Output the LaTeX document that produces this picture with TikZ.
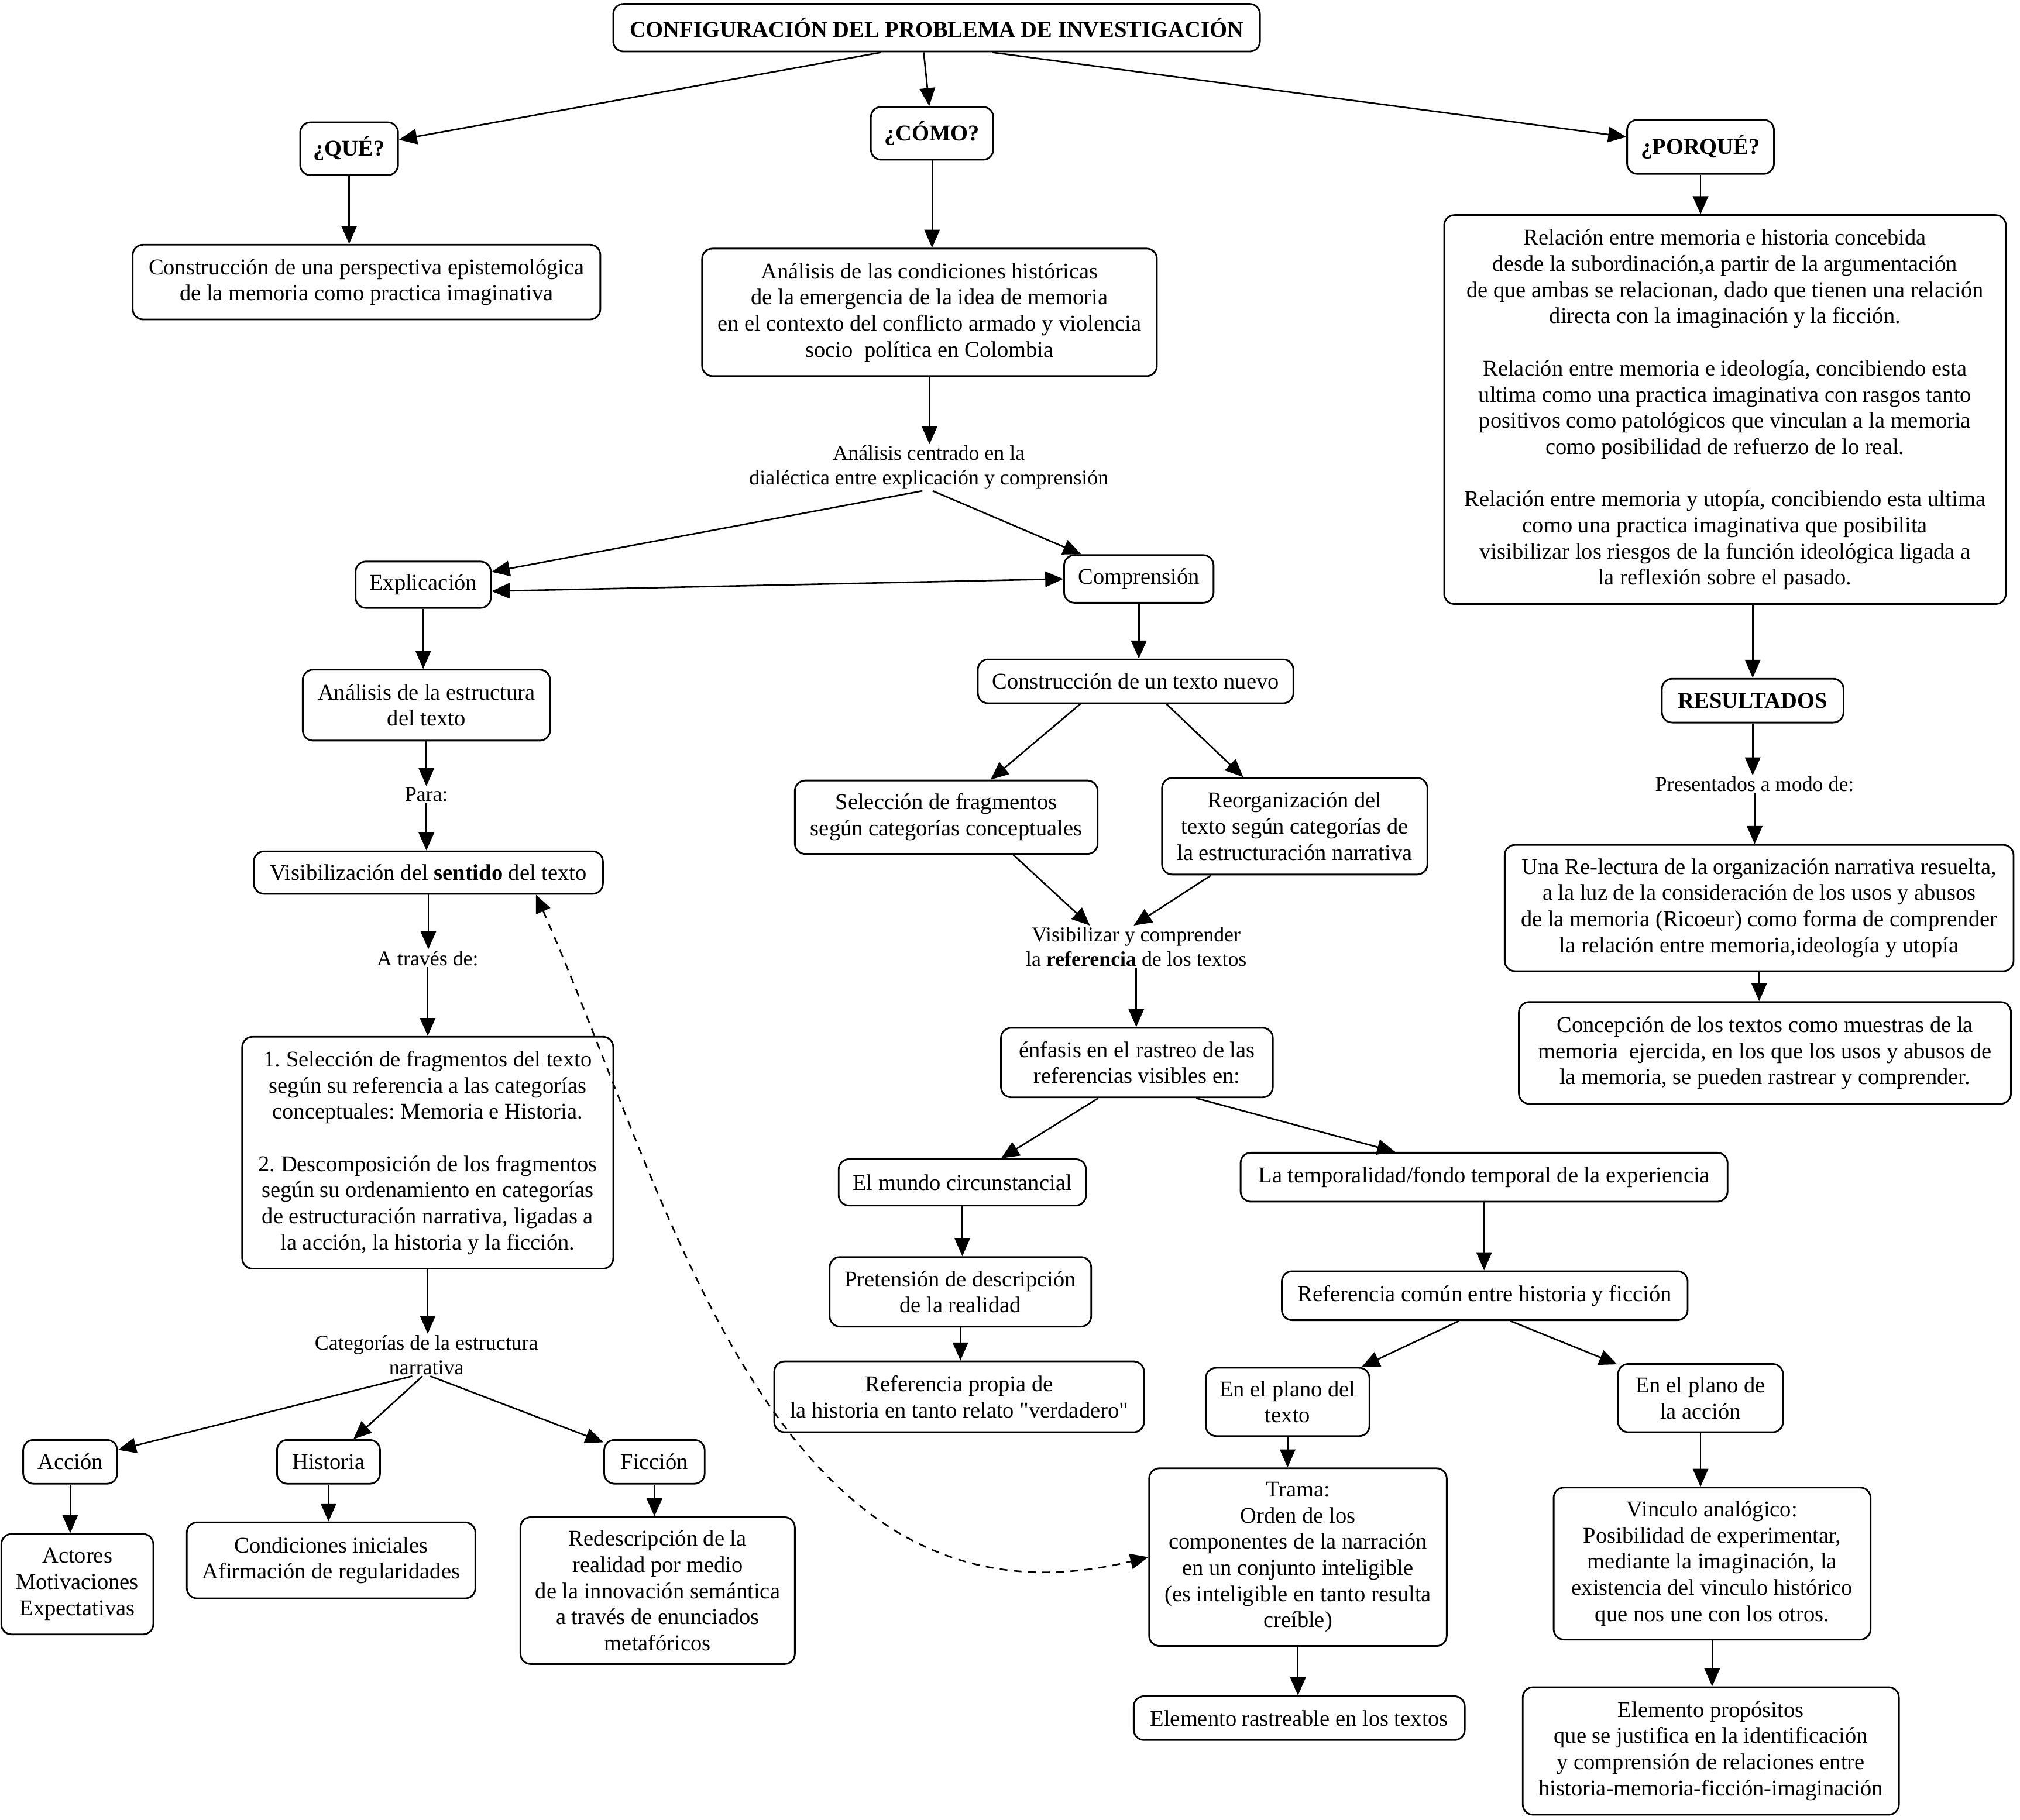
\documentclass[tikz,border=0pt]{standalone}
\usepackage{fontspec}
\setmainfont{Liberation Serif}
\usetikzlibrary{arrows.meta,calc}
\tikzset{
  box/.style={draw, line width=1.3pt, rounded corners=8pt, align=center, inner sep=2pt,
    font=\fontsize{17.5}{20.3}\selectfont},
  sz/.style 2 args={minimum width=#1pt, minimum height=#2pt},
  lbl/.style={align=center, inner sep=1pt, font=\fontsize{16.3}{19}\selectfont},
  arr/.style={-{Triangle[length=14pt,width=12pt]}, line width=1.2pt},
  darr/.style={{Triangle[length=14pt,width=12pt]}-{Triangle[length=14pt,width=12pt]}, line width=1.2pt},
  dasharr/.style={{Triangle[length=14pt,width=12pt]}-{Triangle[length=14pt,width=12pt]}, line width=1.2pt, dash pattern=on 6pt off 5pt},
}
\begin{document}
\frenchspacing
\begin{tikzpicture}[x=1pt, y=-1pt]
\useasboundingbox (0,0) rectangle (1568,1413);

% top level
\node[box, sz={502}{37}] (title) at (727,21.5) {\textbf{CONFIGURACIÓN DEL PROBLEMA DE INVESTIGACIÓN}};
\node[box, sz={76}{41}] (que) at (271,115.5) {\textbf{¿QUÉ?}};
\node[box, sz={95}{41}] (como) at (723.5,103.5) {\textbf{¿CÓMO?}};
\node[box, sz={114}{42}] (porque) at (1320,114) {\textbf{¿PORQUÉ?}};

\node[box, sz={363}{58}] (persp) at (284.5,219) {Construcción de una perspectiva epistemológica\\de la memoria como practica imaginativa};
\node[box, sz={353}{99}] (analisis) at (721.5,242.5) {Análisis de las condiciones históricas\\de la emergencia de la idea de memoria\\en el contexto del conflicto armado y violencia\\socio\ \ política en Colombia};
\node[box, sz={436}{302}] (porbox) at (1339,318) {Relación entre memoria e historia concebida\\desde la subordinación,a partir de la argumentación\\de que ambas se relacionan, dado que tienen una relación\\directa con la imaginación y la ficción.\\[20.3pt]Relación entre memoria e ideología, concibiendo esta\\ultima como una practica imaginativa con rasgos tanto\\positivos como patológicos que vinculan a la memoria\\como posibilidad de refuerzo de lo real.\\[20.3pt]Relación entre memoria y utopía, concibiendo esta ultima\\como una practica imaginativa que posibilita\\visibilizar los riesgos de la función ideológica ligada a\\la reflexión sobre el pasado.};

% left branch
\node[lbl] (centrado) at (721,363) {Análisis centrado en la\\dialéctica entre explicación y comprensión};
\node[box, sz={105}{36}] (expl) at (328.5,454) {Explicación};
\node[box, sz={116}{37}] (compr) at (884,449.5) {Comprensión};
\node[box, sz={192}{55}] (estruct) at (331,547.5) {Análisis de la estructura\\del texto};
\node[lbl] (para) at (331,617) {Para:};
\node[box, sz={271}{33}] (visib) at (332.5,677.5) {Visibilización del \textbf{sentido} del texto};
\node[lbl] (atraves) at (332,744) {A través de:};
\node[box, sz={288}{180}] (frag) at (332,895) {1. Selección de fragmentos del texto\\según su referencia a las categorías\\conceptuales: Memoria e Historia.\\[20.3pt]2. Descomposición de los fragmentos\\según su ordenamiento en categorías\\de estructuración narrativa, ligadas a\\la acción, la historia y la ficción.};
\node[lbl] (categ) at (331,1052) {Categorías de la estructura\\narrativa};
\node[box, sz={73}{34}] (accion) at (54.5,1135) {Acción};
\node[box, sz={80}{34}] (historia) at (255,1135) {Historia};
\node[box, sz={78}{34}] (ficcion) at (508,1135) {Ficción};
\node[box, sz={118}{78}] (actores) at (60,1230) {Actores\\Motivaciones\\Expectativas};
\node[box, sz={224}{59}] (condic) at (257,1211.5) {Condiciones iniciales\\Afirmación de regularidades};
\node[box, sz={213}{114}] (redesc) at (510.5,1235) {Redescripción de la\\realidad por medio\\de la innovación semántica\\a través de enunciados\\metafóricos};

% middle branch
\node[box, sz={245}{34}] (constr) at (881.5,529) {Construcción de un texto nuevo};
\node[box, sz={235}{57}] (selec) at (734.5,634.5) {Selección de fragmentos\\según categorías conceptuales};
\node[box, sz={206}{75}] (reorg) at (1005,641.5) {Reorganización del\\texto según categorías de\\la estructuración narrativa};
\node[lbl] (visref) at (882,735) {Visibilizar y comprender\\la \textbf{referencia} de los textos};
\node[box, sz={211}{54}] (enfasis) at (882.5,825) {énfasis en el rastreo de las\\referencias visibles en:};
\node[box, sz={192}{36}] (mundo) at (747,918) {El mundo circunstancial};
\node[box, sz={378}{38}] (tempo) at (1152,914) {La temporalidad/fondo temporal de la experiencia};
\node[box, sz={203}{54}] (pretens) at (745.5,1003) {Pretensión de descripción\\de la realidad};
\node[box, sz={287}{55}] (refprop) at (744.5,1084.5) {Referencia propia de\\la historia en tanto relato \textquotedbl verdadero\textquotedbl};
\node[box, sz={315}{38}] (refcom) at (1152.5,1006) {Referencia común entre historia y ficción};
\node[box, sz={127}{53}] (ptexto) at (999.5,1088.5) {En el plano del\\texto};
\node[box, sz={128}{53}] (paccion) at (1320,1085.5) {En el plano de\\la acción};
\node[box, sz={231}{138}] (trama) at (1007.5,1209) {Trama:\\Orden de los\\componentes de la narración\\en un conjunto inteligible\\(es inteligible en tanto resulta\\creíble)};
\node[box, sz={257}{34}] (rastreab) at (1008.5,1334) {Elemento rastreable en los textos};
\node[box, sz={246}{118}] (vinculo) at (1329,1214) {Vinculo analógico:\\Posibilidad de experimentar,\\mediante la imaginación, la\\existencia del vinculo histórico\\que nos une con los otros.};
\node[box, sz={292}{99}] (propos) at (1328,1359.5) {Elemento propósitos\\que se justifica en la identificación\\y comprensión de relaciones entre\\historia-memoria-ficción-imaginación};

% right branch
\node[box, sz={141}{34}] (result) at (1360.5,544) {\textbf{RESULTADOS}};
\node[lbl] (presentados) at (1362,609) {Presentados a modo de:};
\node[box, sz={395}{98}] (relect) at (1365.5,705) {Una Re-lectura de la organización narrativa resuelta,\\a la luz de la consideración de los usos y abusos\\de la memoria (Ricoeur) como forma de comprender\\la relación entre memoria,ideología y utopía};
\node[box, sz={382}{79}] (concep) at (1370,817.5) {Concepción de los textos como muestras de la\\memoria\ \ ejercida, en los que los usos y abusos de\\la memoria, se pueden rastrear y comprender.};

% connectors
\draw[arr] ($(title.south)+(-43,0)$) -- (que);
\draw[arr] ($(title.south)+(-10,0)$) -- (como);
\draw[arr] ($(title.south)+(43,0)$) -- (porque);
\draw[arr] (que) -- (que |- persp.north);
\draw[arr] (como) -- (como |- analisis.north);
\draw[arr] (porque) -- (porque |- porbox.north);
\draw[arr] (analisis) -- (analisis |- centrado.north);
\draw[arr] ($(centrado.south)+(-5,0)$) -- (expl);
\draw[arr] ($(centrado.south)+(3,0)$) -- (compr);
\draw[darr] ($(expl.east)+(0,5)$) -- (compr.west);
\draw[arr] (expl) -- (expl |- estruct.north);
\draw[arr] (estruct) -- (estruct |- para.north);
\draw[arr] (para) -- (para |- visib.north);
\draw[arr] (visib) -- (visib |- atraves.north);
\draw[arr] (atraves) -- (atraves |- frag.north);
\draw[arr] (frag) -- (frag |- categ.north);
\draw[arr] ($(categ.south)+(-11,0)$) -- (accion);
\draw[arr] ($(categ.south)+(-3,0)$) -- (historia);
\draw[arr] ($(categ.south)+(3,0)$) -- (ficcion);
\draw[arr] (accion) -- (accion |- actores.north);
\draw[arr] (historia) -- (historia |- condic.north);
\draw[arr] (ficcion) -- (ficcion |- redesc.north);

\draw[arr] (compr) -- (compr |- constr.north);
\draw[arr] ($(constr.south)+(-43,0)$) -- (selec);
\draw[arr] ($(constr.south)+(24,0)$) -- (reorg);
\draw[arr] ($(selec.south)+(52,0)$) -- ($(visref.north)+(-36,0)$);
\draw[arr] ($(reorg.south)+(-65,0)$) -- ($(visref.north)+(-2,0)$);
\draw[arr] (visref) -- (visref |- enfasis.north);
\draw[arr] ($(enfasis.south)+(-30,0)$) -- (mundo);
\draw[arr] ($(enfasis.south)+(46,0)$) -- ($(tempo.north)+(-69,0)$);
\draw[arr] (mundo) -- (mundo |- pretens.north);
\draw[arr] (pretens) -- (pretens |- refprop.north);
\draw[arr] (tempo) -- (tempo |- refcom.north);
\draw[arr] ($(refcom.south)+(-20,0)$) -- (ptexto);
\draw[arr] ($(refcom.south)+(20,0)$) -- (paccion);
\draw[arr] (ptexto) -- (ptexto |- trama.north);
\draw[arr] (trama) -- (trama |- rastreab.north);
\draw[arr] (paccion) -- (paccion |- vinculo.north);
\draw[arr] (vinculo) -- (vinculo |- propos.north);

\draw[arr] (result |- porbox.south) -- (result);
\draw[arr] (result) -- (result |- presentados.north);
\draw[arr] (presentados) -- (presentados |- relect.north);
\draw[arr] (relect) -- (relect |- concep.north);

\draw[dasharr] ($(visib.south)+(83.5,0)$) .. controls +(104,235) and +(-292,71) .. (trama.west);
\end{tikzpicture}
\end{document}
